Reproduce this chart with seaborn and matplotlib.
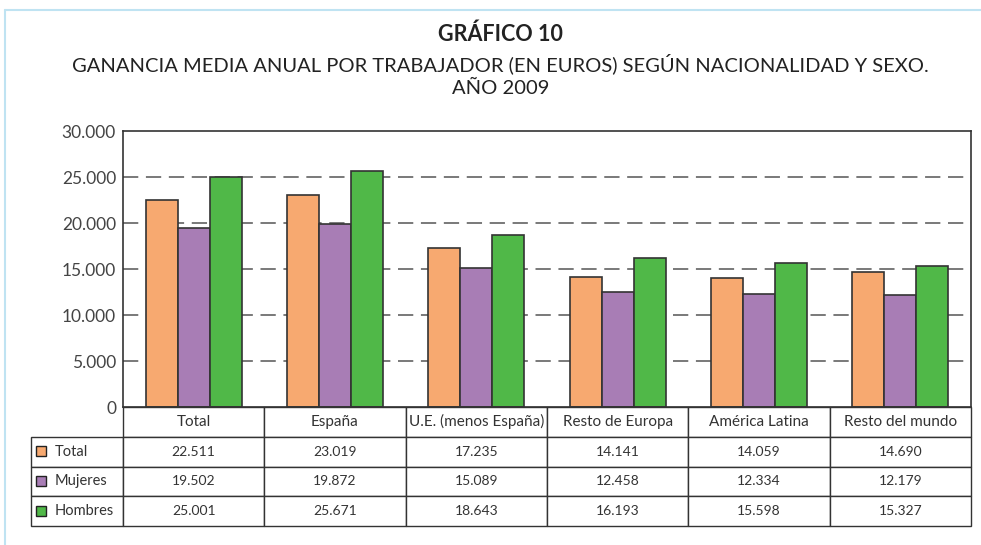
import numpy as np
import pandas as pd
import seaborn as sns
import matplotlib
matplotlib.use('Agg')
from matplotlib import pyplot as plt
from matplotlib.patches import Rectangle
from matplotlib.lines import Line2D
from matplotlib.ticker import FuncFormatter

# datos
regiones = ['Total', 'España', 'U.E. (menos España)', 'Resto de Europa', 'América Latina', 'Resto del mundo']
series = ['Total', 'Mujeres', 'Hombres']
total = [22511, 23019, 17235, 14141, 14059, 14690]
mujeres = [19502, 19872, 15089, 12458, 12334, 12179]
hombres = [25001, 25671, 18643, 16193, 15598, 15327]
colores = ['#F7A970', '#A87DB5', '#50B848']

sns.set_theme(style='white')
plt.rcParams['font.family'] = ['Lato', 'DejaVu Sans']

filas = []
for s, vals in zip(series, [total, mujeres, hombres]):
    for r, v in zip(regiones, vals):
        filas.append([r, v, s])
df = pd.DataFrame(filas, columns=['region', 'valor', 'serie'])

fig = plt.figure(figsize=(9.81, 5.45), dpi=100)
ax = fig.add_axes([123/981, 1-407/545, 848/981, 276/545])

sns.barplot(data=df, x='region', y='valor', hue='serie', order=regiones, hue_order=series,
            palette=colores, width=0.68, saturation=1, edgecolor='#333333', linewidth=1.2,
            legend=False, ax=ax)

ax.set_ylim(0, 30000)
ax.set_xlim(-0.5, 5.5)
ax.set_yticks(range(0, 30001, 5000))
ax.yaxis.set_major_formatter(FuncFormatter(lambda v, p: f'{int(v):,}'.replace(',', '.')))
ax.tick_params(axis='y', length=0, labelsize=12.5, labelcolor='#444444', pad=5)
ax.set_xticks([])
ax.set_xlabel('')
ax.set_ylabel('')
for y in range(5000, 30000, 5000):
    ax.axhline(y, color='#555555', lw=1.1, ls=(0, (10, 5)), zorder=0)
for sp in ax.spines.values():
    sp.set_color('#333333')
    sp.set_linewidth(1.2)

# tabla de datos (primera columna = etiquetas de serie)
fmt = lambda v: f'{v:,}'.replace(',', '.')
celdas = [[''] + regiones]
for s, vals in zip(series, [total, mujeres, hombres]):
    celdas.append([s] + [fmt(v) for v in vals])
anchos = [92] + [848 / 6] * 6
tab = ax.table(cellText=celdas, cellLoc='center', colWidths=anchos,
               bbox=[-92/848, -119/276, 1 + 92/848, 119/276])
tab.auto_set_font_size(False)
for (r, c), cell in tab.get_celld().items():
    cell.set_edgecolor('#333333')
    cell.set_linewidth(1.0)
    txt = cell.get_text()
    txt.set_color('#333333')
    if r == 0:
        txt.set_fontsize(11)
        if c == 0:
            cell.visible_edges = ''
    else:
        txt.set_fontsize(10)
    if c == 0 and r > 0:
        cell.PAD = 0.26
        txt.set_ha('left')
        txt.set_fontsize(10.5)

# cuadritos de la leyenda
for i, col in enumerate(colores):
    yc = 451 + 30 * i
    fig.add_artist(Rectangle((36/981, 1 - (yc + 5)/545), 10/981, 10/545,
                             transform=fig.transFigure, facecolor=col,
                             edgecolor='#222222', lw=1.0))

# titulos
fig.text(0.51, 1 - 34/545, 'GRÁFICO 10', ha='center', va='center',
         fontsize=15.5, fontweight='bold', color='#222222')
fig.text(0.51, 1 - 64/545, 'GANANCIA MEDIA ANUAL POR TRABAJADOR (EN EUROS) SEGÚN NACIONALIDAD Y SEXO.',
         ha='center', va='center', fontsize=14.5, color='#222222')
fig.text(0.51, 1 - 88/545, 'AÑO 2009', ha='center', va='center', fontsize=14.5, color='#222222')

# marco azul claro
fig.add_artist(Line2D([5/981, 5/981], [0, 1 - 10/545], transform=fig.transFigure, color='#BFE3F2', lw=1.5))
fig.add_artist(Line2D([5/981, 1], [1 - 10/545, 1 - 10/545], transform=fig.transFigure, color='#BFE3F2', lw=1.5))

plt.savefig('out.png', dpi=100)
